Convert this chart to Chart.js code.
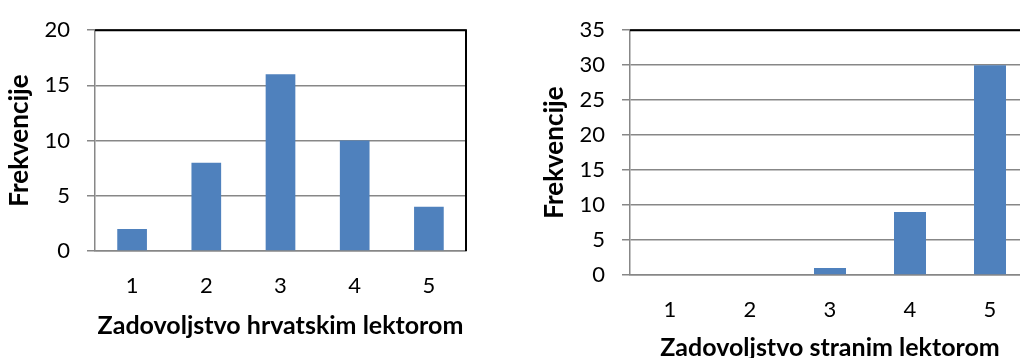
<!DOCTYPE html>
<html><head><meta charset="utf-8">
<script src="https://cdn.jsdelivr.net/npm/chart.js@4"></script>
<style>
html,body{margin:0;padding:0;background:#fff;overflow:hidden;width:1020px;height:358px;position:relative}
#c1{position:absolute;left:0;top:0}
#c2{position:absolute;left:520px;top:0}
</style></head><body>
<canvas id="c1" width="490" height="358"></canvas>
<canvas id="c2" width="520" height="400"></canvas>
<script>
const categories = ['1', '2', '3', '4', '5'];
const hrvatskiValues = [2, 8, 16, 10, 4];
const straniValues = [0, 0, 1, 9, 30];
const yTitle = 'Frekvencije';
const xTitleLeft = 'Zadovoljstvo hrvatskim lektorom';
const xTitleRight = 'Zadovoljstvo stranim lektorom';
const yMaxLeft = 20;
const yMaxRight = 35;
const yStep = 5;

const GRAY = '#878787';
const BAR = '#4F81BD';
const FONT = 'Lato';

const framePlugin = {
  id: 'frame',
  afterDatasetsDraw(chart) {
    const {ctx, chartArea: a} = chart;
    ctx.save();
    ctx.strokeStyle = '#000';
    ctx.lineWidth = 2;
    ctx.beginPath();
    ctx.moveTo(a.left, a.top);
    ctx.lineTo(a.right, a.top);
    ctx.lineTo(a.right, a.bottom);
    ctx.stroke();
    ctx.restore();
  }
};

function makeChart(id, values, yMax, xTitle, cfg) {
  return new Chart(document.getElementById(id), {
    type: 'bar',
    data: {
      labels: categories,
      datasets: [{
        data: values,
        backgroundColor: BAR,
        borderWidth: 0,
        barPercentage: 0.4,
        categoryPercentage: 1
      }]
    },
    options: {
      responsive: false,
      animation: false,
      devicePixelRatio: 1,
      layout: {padding: {left: 0, top: cfg.top, right: cfg.right, bottom: 0}},
      plugins: {legend: {display: false}, tooltip: {enabled: false}},
      scales: {
        x: {
          grid: {display: false, drawTicks: false},
          border: {display: true, color: GRAY, width: 1.5},
          ticks: {font: {family: FONT, size: 22}, color: '#000', padding: 22},
          title: {display: true, text: xTitle, color: '#000',
                  font: {family: FONT, size: 25, weight: 'bold'},
                  padding: {top: 0, bottom: cfg.xtPad}},
          afterFit(s) { s.height = cfg.xh; }
        },
        y: {
          min: 0, max: yMax,
          ticks: {stepSize: yStep, font: {family: FONT, size: 22}, color: '#000', padding: 17},
          grid: {color: GRAY, lineWidth: 1.5, drawTicks: true, tickLength: 8, tickColor: GRAY},
          border: {display: true, color: GRAY, width: 1.5},
          title: {display: true, text: yTitle, color: '#000',
                  font: {family: FONT, size: 26, weight: 'bold'},
                  padding: {top: cfg.ytPad, bottom: 0}},
          afterFit(s) { s.width = cfg.yw; }
        }
      }
    },
    plugins: [framePlugin]
  });
}

makeChart('c1', hrvatskiValues, yMaxLeft, xTitleLeft,
  {top: 28, right: 24, xh: 107, yw: 95, xtPad: 17, ytPad: 4});
makeChart('c2', straniValues, yMaxRight, xTitleRight,
  {top: 22, right: 10, xh: 125, yw: 110, xtPad: 37, ytPad: 19});
</script>
</body></html>
